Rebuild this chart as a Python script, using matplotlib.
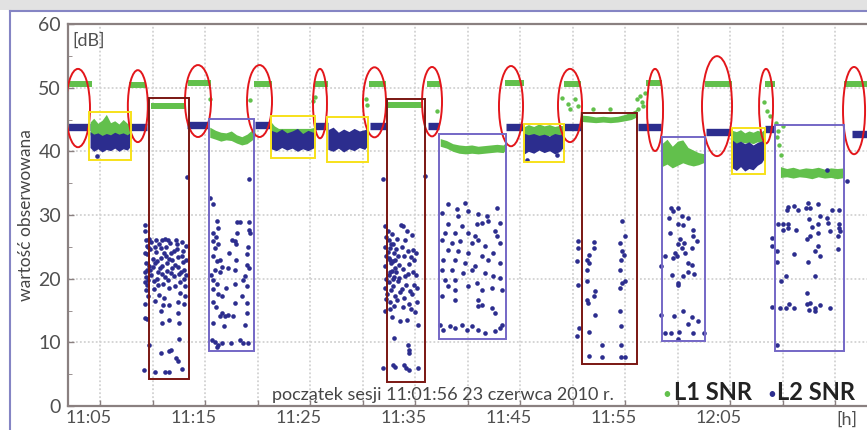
import matplotlib.pyplot as plt
import matplotlib.transforms as mtransforms
from matplotlib.patches import Ellipse, Rectangle
from matplotlib.lines import Line2D

# czas w minutach od 11:00, wartości w dB

# L1 SNR - odcinki stałe (początek, koniec, poziom)
l1_flat_start = [61.9, 67.8, 69.9, 73.4, 79.7, 85.4, 90.6, 92.4, 96.1, 103.6, 109.2, 117.0, 122.6, 128.3, 135.9]
l1_flat_end = [64.2, 69.4, 73.2, 75.6, 81.4, 86.7, 92.2, 95.7, 97.4, 105.4, 110.8, 118.5, 125.2, 129.3, 138.4]
l1_flat_level = [50.5, 50.4, 47.1, 50.7, 50.6, 50.6, 50.5, 47.2, 50.6, 50.8, 50.6, 50.7, 50.5, 50.5, 50.5]

# L2 SNR - odcinki stałe
l2_flat_start = [61.9, 67.9, 73.3, 79.8, 85.5, 90.7, 96.2, 103.7, 109.2, 116.2, 122.7, 128.3, 136.6]
l2_flat_end = [64.0, 69.5, 75.4, 81.3, 86.7, 92.2, 97.3, 105.3, 110.8, 118.4, 125.2, 129.2, 138.4]
l2_flat_level = [43.8, 43.9, 44.1, 44.1, 44.0, 44.0, 44.0, 43.9, 43.9, 43.8, 43.1, 43.5, 42.8]

# L1 - pasma zaszumione (czas, dolna krawędź, górna krawędź)
g1_t = [64.05, 64.4, 64.8, 65.2, 65.6, 66.0, 66.4, 66.8, 67.2, 67.6, 67.9]
g1_lo = [42.6, 42.4, 42.8, 42.3, 42.6, 42.5, 42.7, 42.4, 42.8, 42.5, 42.7]
g1_hi = [44.6, 45.2, 44.4, 44.9, 45.8, 44.5, 44.8, 44.3, 45.0, 44.4, 44.2]

g3_t = [75.45, 76.0, 76.5, 77.0, 77.5, 78.0, 78.5, 79.0, 79.5, 79.75]
g3_lo = [42.2, 41.9, 41.6, 41.8, 41.7, 41.3, 41.0, 41.2, 41.8, 42.3]
g3_hi = [43.8, 43.3, 43.0, 42.9, 43.2, 42.6, 42.3, 42.7, 43.4, 43.6]

g4_t = [81.3, 81.6, 82.0, 83.0, 84.0, 85.0, 85.5]
g4_lo = [42.8, 42.8, 42.8, 42.8, 42.8, 42.8, 42.8]
g4_hi = [44.6, 44.0, 43.6, 43.6, 43.6, 43.6, 43.8]

g7_t = [97.4, 98.0, 98.6, 99.2, 99.8, 100.4, 101.0, 101.6, 102.2, 102.8, 103.4, 103.6]
g7_lo = [40.8, 40.5, 40.0, 39.7, 39.6, 39.7, 39.6, 39.7, 39.8, 39.9, 39.8, 40.2]
g7_hi = [42.0, 41.7, 41.2, 41.0, 40.9, 41.0, 40.8, 40.9, 41.0, 41.1, 41.0, 41.3]

g8_t = [105.3, 105.8, 106.3, 106.8, 107.3, 107.8, 108.3, 108.8, 109.1]
g8_lo = [42.3, 42.5, 42.2, 42.4, 42.3, 42.5, 42.2, 42.4, 42.6]
g8_hi = [43.8, 44.2, 43.9, 44.3, 44.0, 44.2, 43.9, 44.1, 44.0]

g9_t = [110.8, 111.5, 112.2, 112.9, 113.6, 114.3, 115.0, 115.6, 116.1]
g9_lo = [44.7, 44.6, 44.5, 44.6, 44.5, 44.6, 44.8, 45.0, 45.4]
g9_hi = [45.7, 45.6, 45.4, 45.5, 45.4, 45.5, 45.8, 46.2, 46.6]

g10_t = [118.5, 119.0, 119.5, 120.0, 120.5, 121.0, 121.5, 122.0, 122.6]
g10_lo = [37.6, 38.0, 37.4, 37.8, 38.2, 37.9, 37.7, 37.9, 38.3]
g10_hi = [41.2, 41.9, 40.8, 41.6, 41.8, 40.6, 40.2, 39.8, 39.6]

g11_t = [125.2, 125.6, 126.0, 126.4, 126.8, 127.2, 127.6, 128.0, 128.3]
g11_lo = [41.4, 41.2, 41.5, 41.3, 41.4, 41.2, 41.5, 41.3, 41.6]
g11_hi = [43.3, 43.1, 43.4, 42.9, 43.2, 43.0, 43.3, 43.1, 43.5]

g12_t = [129.8, 130.4, 131.0, 131.6, 132.2, 132.8, 133.4, 134.0, 134.6, 135.2, 135.9]
g12_lo = [35.9, 36.0, 35.8, 36.0, 35.9, 35.7, 36.0, 35.8, 35.9, 35.7, 35.9]
g12_hi = [37.6, 37.3, 37.5, 37.2, 37.4, 37.3, 37.5, 37.2, 37.4, 37.3, 37.4]

# L2 - pasma zaszumione
b1_t = [64.05, 64.4, 64.8, 65.2, 65.6, 66.0, 66.4, 66.8, 67.2, 67.6, 67.9]
b1_lo = [40.6, 40.0, 40.4, 39.9, 40.3, 40.1, 40.5, 40.0, 40.4, 40.2, 40.8]
b1_hi = [43.1, 42.7, 42.9, 42.5, 42.8, 42.6, 43.0, 42.7, 42.9, 42.6, 43.0]

b4_t = [81.3, 81.8, 82.3, 82.8, 83.3, 83.8, 84.3, 84.8, 85.3, 85.5]
b4_lo = [40.4, 40.1, 40.6, 40.2, 40.5, 40.0, 40.4, 40.1, 40.5, 40.8]
b4_hi = [43.3, 43.0, 43.5, 42.9, 43.2, 43.6, 42.8, 43.3, 43.0, 43.2]

b5_t = [86.7, 87.2, 87.7, 88.2, 88.7, 89.2, 89.7, 90.2, 90.5]
b5_lo = [40.3, 40.0, 40.5, 39.9, 40.4, 40.1, 40.6, 40.3, 40.9]
b5_hi = [43.4, 43.8, 43.0, 43.5, 43.1, 43.6, 43.2, 43.4, 43.6]

b8_t = [105.3, 105.8, 106.3, 106.8, 107.3, 107.8, 108.3, 108.8, 109.1]
b8_lo = [39.5, 40.0, 39.7, 40.2, 39.8, 40.1, 39.6, 40.0, 40.6]
b8_hi = [42.9, 42.6, 42.8, 42.5, 42.7, 42.4, 42.8, 42.6, 42.9]

b11_t = [125.2, 125.6, 126.0, 126.4, 126.8, 127.2, 127.6, 128.0, 128.3]
b11_lo = [37.4, 37.0, 37.6, 36.9, 37.3, 37.1, 37.8, 38.2, 39.0]
b11_hi = [41.8, 41.3, 41.6, 41.2, 41.5, 41.0, 41.4, 41.6, 42.0]

# L1 - pojedyncze punkty w przejściach
l1_points = [(90.3, 48.2), (90.4, 47.2), (97.1, 46.4), (109.0, 48.3), (109.6, 47.4),
             (110.24, 48.2), (110.56, 47.1), (109.76, 46.6), (111.98, 46.6), (113.57, 46.6),
             (116.11, 48.2), (116.27, 46.6), (116.43, 48.7), (116.59, 47.7), (116.74, 47.1),
             (116.9, 49.2), (129.4, 44.5), (129.6, 43.2), (129.5, 42.3), (129.7, 41.0),
             (129.9, 39.5), (130.0, 44.0), (85.3, 47.9), (85.5, 48.6), (75.5, 48.2),
             (79.3, 48.0), (128.2, 47.8), (128.5, 46.4), (128.8, 45.5)]

# L2 - chmury punktów
cloud_a = [(69.4, 26.1), (69.5, 25.2), (69.5, 23.8), (69.4, 22.5), (69.5, 21.4), (69.4, 20.3),
           (69.5, 19.0), (69.4, 18.2), (69.6, 17.3), (69.7, 26.3), (69.8, 24.6), (69.9, 25.8),
           (70.0, 23.1), (70.0, 21.9), (69.9, 20.6), (70.1, 19.6), (70.1, 18.4), (70.3, 26.0),
           (70.3, 24.2), (70.4, 22.8), (70.5, 21.1), (70.4, 20.0), (70.6, 17.5), (70.6, 25.4),
           (70.8, 24.8), (70.8, 23.3), (70.9, 22.0), (70.9, 20.7), (71.0, 19.2), (71.1, 17.0),
           (71.2, 26.2), (71.3, 25.0), (71.3, 23.6), (71.4, 22.4), (71.4, 21.2), (71.5, 19.8),
           (71.6, 18.5), (71.7, 25.6), (71.8, 24.0), (71.9, 22.9), (71.9, 21.6), (72.0, 20.4),
           (72.1, 18.9), (72.2, 26.0), (72.3, 24.7), (72.4, 23.4), (72.4, 21.9), (72.5, 20.8),
           (72.6, 19.5), (72.6, 17.8), (72.8, 25.7), (72.9, 24.3), (72.9, 22.6), (73.0, 21.3),
           (73.0, 20.0), (73.1, 18.9), (73.2, 25.2), (73.2, 23.0), (73.1, 17.2), (70.2, 16.5),
           (71.0, 15.8), (72.4, 16.3), (73.0, 16.0), (69.6, 24.9), (69.7, 22.0), (70.2, 24.9),
           (70.7, 21.7), (71.1, 24.1), (71.6, 23.1), (72.1, 22.2), (72.7, 21.0), (73.2, 20.6),
           (70.5, 19.0), (71.8, 20.9), (72.3, 25.4), (70.9, 26.0), (69.8, 21.3), (72.8, 23.6),
           (71.2, 20.3), (70.2, 22.4), (72.0, 24.4), (71.5, 26.1), (69.6, 19.8),
           (69.3, 27.5), (69.3, 24.0), (69.3, 21.0), (69.3, 19.5), (69.3, 16.0), (69.3, 13.8),
           (73.26, 35.9), (69.29, 28.5), (70.8, 14.9), (71.6, 15.9), (72.4, 14.6), (71.6, 13.5),
           (70.9, 13.0), (72.5, 13.1), (69.5, 13.6), (72.5, 10.6), (69.7, 9.6), (70.8, 8.3),
           (71.6, 8.6), (71.8, 8.8), (72.2, 7.5), (72.4, 7.1), (69.2, 5.7), (70.2, 5.4),
           (71.2, 5.4), (71.6, 5.4), (72.8, 5.8)]

cloud_b = [(79.22, 35.7), (75.48, 32.7), (75.79, 31.7), (76.11, 29.0), (76.27, 28.0), (75.79, 27.2),
           (75.79, 25.9), (75.95, 24.8), (75.79, 23.5), (76.11, 22.7), (76.43, 23.0), (76.59, 21.9),
           (75.95, 21.4), (76.43, 21.1), (75.79, 19.8), (76.11, 19.1), (75.79, 18.3), (76.27, 17.6),
           (76.59, 17.3), (75.79, 16.4), (76.43, 14.1), (76.59, 14.6), (76.90, 14.2), (77.22, 14.3),
           (77.70, 14.2), (75.79, 13.0), (75.63, 10.4), (75.95, 10.1), (76.27, 9.6), (76.59, 9.9),
           (78.33, 10.4), (79.12, 9.9), (78.02, 28.9), (78.33, 28.9), (79.22, 28.9), (79.22, 27.7),
           (79.29, 27.2), (78.08, 27.2), (77.54, 26.1), (77.86, 25.9), (77.95, 25.4), (78.97, 23.8),
           (77.95, 23.0), (78.97, 22.2), (77.22, 21.7), (77.86, 21.4), (79.22, 21.7), (78.81, 20.4),
           (77.86, 19.1), (78.97, 18.8), (78.50, 17.2), (77.86, 16.2), (78.97, 16.2), (78.97, 14.6),
           (78.81, 12.8), (78.65, 9.9), (76.0, 26.5), (76.2, 25.5), (75.6, 20.5), (76.0, 15.5),
           (77.3, 24.0), (78.6, 19.8), (77.0, 18.6), (79.1, 25.0), (76.8, 12.6), (77.5, 9.9),
           (76.1, 9.3)]

cloud_c = [(91.95, 35.6), (95.92, 36.1), (92.14, 28.3), (92.24, 26.5), (92.14, 25.0), (92.24, 23.5),
           (92.14, 22.0), (92.24, 20.0), (92.14, 18.5), (92.24, 16.8), (92.14, 15.0), (92.43, 27.5),
           (92.52, 26.0), (92.62, 24.8), (92.52, 23.2), (92.71, 22.4), (92.62, 21.0), (92.52, 19.5),
           (92.71, 18.2), (92.62, 16.3), (92.81, 27.0), (92.90, 25.5), (93.0, 24.0), (92.90, 22.8),
           (93.10, 21.6), (93.0, 20.3), (92.90, 18.8), (93.10, 17.2), (93.0, 15.7), (92.81, 14.0),
           (93.29, 26.2), (93.38, 23.5), (93.19, 21.0), (93.38, 19.6), (93.29, 16.6), (93.48, 22.2),
           (93.67, 28.5), (93.86, 28.2), (93.76, 25.0), (93.95, 23.6), (93.86, 21.5), (94.05, 20.4),
           (93.76, 18.4), (93.95, 17.0), (93.86, 15.5), (94.14, 19.0), (94.24, 27.5), (94.33, 24.3),
           (94.43, 22.3), (94.33, 20.8), (94.52, 18.0), (94.43, 16.0), (94.62, 15.2), (94.71, 26.8),
           (94.81, 24.5), (94.90, 22.9), (94.81, 21.0), (94.90, 19.0), (94.71, 17.6), (95.10, 20.6),
           (95.19, 18.5), (95.0, 14.8), (95.29, 12.8), (94.24, 13.5), (93.57, 13.3), (92.4, 24.2),
           (92.6, 22.9), (92.8, 21.2), (92.5, 20.6), (92.7, 25.4), (93.1, 23.0), (92.9, 19.9),
           (93.2, 24.6), (92.35, 17.6), (92.6, 15.3), (93.5, 20.1), (93.6, 17.9), (94.6, 23.4),
           (95.1, 24.0), (95.2, 16.3), (94.0, 26.0), (93.0, 10.7), (94.33, 9.6), (94.43, 8.8),
           (94.43, 8.3), (91.95, 5.9), (92.90, 6.5), (93.13, 6.2), (93.95, 6.5), (94.10, 5.9),
           (94.43, 5.7), (95.24, 5.9)]

cloud_d = [(98.17, 31.66), (98.97, 30.87), (99.76, 31.92), (101.03, 30.08), (101.82, 29.82),
           (102.78, 31.13), (97.54, 30.35), (99.13, 29.82), (100.08, 30.61), (103.10, 28.77),
           (101.98, 29.03), (101.35, 28.77), (100.87, 28.51), (98.17, 28.51), (97.86, 27.20),
           (98.81, 27.20), (99.44, 28.25), (100.08, 27.20), (100.71, 26.67), (102.78, 26.67),
           (102.62, 27.46), (97.54, 26.15), (98.49, 25.62), (99.29, 25.88), (100.40, 25.62),
           (101.03, 26.15), (101.67, 25.10), (103.10, 25.62), (98.17, 24.57), (99.13, 24.31),
           (100.08, 24.05), (101.35, 23.52), (101.98, 23.00), (102.46, 24.05), (97.70, 23.00),
           (98.81, 23.00), (99.76, 22.47), (100.71, 21.95), (103.10, 22.47), (97.54, 21.42),
           (98.49, 21.42), (99.60, 20.90), (100.40, 21.42), (101.67, 20.90), (102.46, 20.37),
           (97.86, 19.85), (98.81, 19.85), (100.87, 19.32), (103.10, 20.11), (98.17, 18.80),
           (98.81, 18.27), (100.08, 18.80), (101.35, 18.27), (102.30, 18.53), (97.54, 17.22),
           (98.81, 16.70), (101.03, 16.70), (103.25, 18.27), (101.35, 15.91), (102.30, 15.39),
           (102.62, 14.60), (101.03, 15.65), (97.38, 12.76), (97.70, 11.97), (98.33, 12.50),
           (98.81, 12.24), (99.44, 12.76), (99.92, 11.97), (100.40, 12.50), (101.03, 11.97),
           (101.67, 11.45), (102.62, 11.71), (103.10, 12.24), (103.25, 12.76)]

cloud_e = [(114.71, 29.03), (115.03, 26.67), (110.52, 25.88), (110.52, 24.83), (112.01, 25.72),
           (112.01, 24.83), (114.55, 25.62), (114.71, 24.30), (114.87, 23.78), (111.54, 23.78),
           (111.38, 22.99), (110.43, 22.83), (111.54, 22.47), (114.65, 22.99), (114.55, 21.42),
           (111.38, 21.42), (114.71, 19.32), (115.03, 19.58), (114.55, 18.53), (111.38, 19.58),
           (110.52, 19.05), (112.17, 18.00), (112.01, 17.22), (111.38, 16.69), (111.47, 16.17),
           (112.17, 14.33), (114.55, 14.85), (114.65, 12.60), (110.58, 12.23), (110.43, 10.92),
           (111.54, 11.55), (112.81, 9.60), (114.65, 9.60), (111.54, 7.87), (112.81, 7.66),
           (114.65, 7.77), (114.97, 7.77)]

cloud_f = [(119.38, 31.13), (120.08, 31.13), (119.61, 30.61), (120.40, 29.82), (121.03, 29.56),
           (119.19, 29.56), (120.02, 28.51), (120.56, 28.40), (121.51, 27.72), (119.29, 27.19),
           (121.51, 26.67), (121.83, 25.99), (120.24, 26.25), (120.65, 25.62), (120.02, 25.46),
           (120.40, 24.83), (121.35, 24.83), (119.76, 24.04), (120.72, 24.04), (118.81, 23.62),
           (119.92, 23.52), (119.61, 23.26), (121.03, 22.47), (118.43, 21.94), (121.35, 22.21),
           (121.03, 21.05), (121.61, 20.74), (119.45, 20.63), (120.56, 20.37), (120.08, 19.32),
           (120.02, 19.06), (120.56, 14.86), (118.43, 14.23), (119.70, 14.07), (121.35, 13.91),
           (121.99, 13.28), (121.03, 12.86), (118.81, 11.45), (119.38, 11.45), (120.15, 11.55),
           (121.51, 11.45), (122.56, 11.45), (120.02, 10.55)]

cloud_g = [(130.40, 30.86), (130.55, 31.23), (131.13, 31.39), (131.51, 30.71), (132.21, 31.13),
           (132.62, 31.13), (132.46, 31.91), (133.35, 31.76), (134.68, 30.86), (135.38, 30.86),
           (132.52, 29.45), (133.57, 29.81), (133.41, 28.61), (134.20, 29.55), (134.36, 28.76),
           (135.38, 28.61), (135.38, 27.98), (135.32, 26.66), (135.48, 27.45), (134.52, 27.45),
           (129.54, 28.61), (130.08, 28.61), (130.49, 28.61), (130.08, 27.71), (130.55, 27.98),
           (131.25, 27.71), (132.78, 28.08), (133.35, 27.19), (132.62, 26.66), (132.30, 26.30),
           (128.97, 26.40), (128.97, 25.09), (129.44, 24.41), (133.41, 25.09), (133.09, 24.41),
           (135.32, 24.67), (131.13, 23.88), (133.57, 23.51), (132.46, 22.62), (129.44, 22.62),
           (130.30, 20.37), (129.86, 19.58), (133.09, 20.37), (132.30, 17.74), (128.97, 15.53),
           (129.76, 15.38), (130.30, 15.38), (130.62, 16.01), (131.13, 15.38), (132.30, 16.01),
           (132.62, 16.16), (132.52, 15.12), (133.09, 15.38), (133.09, 14.96), (133.57, 15.90),
           (134.52, 15.38), (129.44, 9.60)]

l2_extra = [(136.1, 35.3), (134.2, 37.0), (64.69, 39.3), (105.64, 38.7), (108.5, 39.4)]

xtick_labels = ['11:05', '', '11:15', '', '11:25', '', '11:35', '', '11:45', '', '11:55', '', '12:05', '', '']

green = '#62c04c'
blue = '#2c2d8e'

plt.rcParams['font.family'] = ['Lato', 'DejaVu Sans']

fig = plt.figure(figsize=(8.67, 4.30), dpi=100)
fig.patches.append(Rectangle((0, 1 - 10 / 430), 1, 10 / 430, transform=fig.transFigure,
                             facecolor='#e2e2e2', edgecolor='none'))
fig.lines.append(Line2D([10 / 867, 1], [1 - 10.5 / 430] * 2, transform=fig.transFigure,
                        color='#8585c4', lw=1.5))
fig.lines.append(Line2D([10 / 867] * 2, [0, 1 - 10.5 / 430], transform=fig.transFigure,
                        color='#8585c4', lw=1.5))

ax = fig.add_axes([68 / 867, 24 / 430, 802 / 867, 382 / 430])
ax.set_xlim(61.95, 138.33)
ax.set_ylim(0, 60)

# pasma stałe
for s, e, v in zip(l1_flat_start, l1_flat_end, l1_flat_level):
    ax.plot([s, e], [v, v], color=green, lw=4.3, solid_capstyle='butt', zorder=2)
for s, e, v in zip(l2_flat_start, l2_flat_end, l2_flat_level):
    ax.plot([s, e], [v, v], color=blue, lw=5.3, solid_capstyle='butt', zorder=2)

# pasma zaszumione
for t, lo, hi in [(g1_t, g1_lo, g1_hi), (g3_t, g3_lo, g3_hi), (g4_t, g4_lo, g4_hi),
                  (g7_t, g7_lo, g7_hi), (g8_t, g8_lo, g8_hi), (g9_t, g9_lo, g9_hi),
                  (g10_t, g10_lo, g10_hi), (g11_t, g11_lo, g11_hi), (g12_t, g12_lo, g12_hi)]:
    ax.fill_between(t, lo, hi, color=green, lw=0, zorder=2)
for t, lo, hi in [(b1_t, b1_lo, b1_hi), (b4_t, b4_lo, b4_hi), (b5_t, b5_lo, b5_hi),
                  (b8_t, b8_lo, b8_hi), (b11_t, b11_lo, b11_hi)]:
    ax.fill_between(t, lo, hi, color=blue, lw=0, zorder=2.5)

# punkty
ax.scatter([p[0] for p in l1_points], [p[1] for p in l1_points], s=10, color=green, lw=0, zorder=3)
for cloud in [cloud_a, cloud_b, cloud_c, cloud_d, cloud_e, cloud_f, cloud_g, l2_extra]:
    ax.scatter([p[0] for p in cloud], [p[1] for p in cloud], s=11, color=blue, lw=0, zorder=3)

# adnotacje
for cx, cy, w, h in [(62.9, 46.8, 2.29, 12.3), (68.6, 47.1, 1.9, 11.3), (74.33, 47.9, 2.48, 11.3),
                     (80.19, 47.9, 2.38, 11.3), (85.95, 47.5, 1.33, 10.9), (91.14, 47.7, 2.19, 11.0),
                     (96.62, 47.8, 1.9, 10.9), (104.14, 47.1, 2.29, 12.6), (109.76, 47.2, 2.29, 11.5),
                     (117.86, 46.5, 1.52, 12.9), (123.76, 47.1, 2.86, 15.7), (128.43, 47.1, 1.33, 11.7),
                     (136.81, 46.4, 2.1, 13.7)]:
    ax.add_patch(Ellipse((cx, cy), w, h, fill=False, edgecolor='#e3161b', lw=1.4, zorder=4))

boxes = [((63.95, 67.95, 38.6, 46.1), '#f7e11a'), ((81.29, 85.48, 38.9, 45.5), '#f7e11a'),
         ((86.62, 90.52, 38.3, 45.4), '#f7e11a'), ((105.38, 109.19, 38.3, 44.3), '#f7e11a'),
         ((125.19, 128.33, 36.5, 43.6), '#f7e11a'),
         ((69.67, 73.48, 4.25, 48.35), '#7a1612'), ((92.33, 95.95, 3.8, 48.2), '#7a1612'),
         ((110.9, 116.14, 6.6, 46.0), '#7a1612'),
         ((75.38, 79.67, 8.66, 45.04), '#7467c6'), ((97.29, 103.67, 10.55, 42.8), '#7467c6'),
         ((118.52, 122.62, 10.24, 42.2), '#7467c6'), ((129.29, 135.86, 8.66, 44.1), '#7467c6')]
for (x0, x1, y0, y1), c in boxes:
    ax.add_patch(Rectangle((x0, y0), x1 - x0, y1 - y0, fill=False, edgecolor=c, lw=1.4, zorder=4))

# osie
ax.set_xticks([65 + 5 * i for i in range(15)], xtick_labels)
ax.set_yticks(range(0, 61, 10))
ax.set_yticks(range(5, 60, 10), minor=True)
ax.tick_params(direction='in', length=4, width=1, color='#8a8080', labelcolor='#505050')
ax.tick_params(axis='x', labelsize=13, pad=3)
ax.tick_params(axis='y', labelsize=14, pad=5)
ax.tick_params(axis='y', which='minor', direction='in', length=3, color='#8a8080')
offset = mtransforms.ScaledTranslation(-11 / 100, 0, fig.dpi_scale_trans)
for lbl in ax.get_xticklabels():
    lbl.set_transform(lbl.get_transform() + offset)

for x in range(65, 140, 5):
    ax.axvline(x, color='#d2d2d2', lw=1.3, ls=(0, (1, 1.2)), zorder=0)
for y in range(10, 60, 10):
    ax.axhline(y, color='#d2d2d2', lw=1.3, ls=(0, (1, 1.2)), zorder=0)

for sp in ax.spines.values():
    sp.set_color('#8a8080')
    sp.set_linewidth(1.6)

ax.set_ylabel('wartość obserwowana', fontsize=12.5, color='#454545', labelpad=3)
ax.text(0.005, 0.978, '[dB]', transform=ax.transAxes, fontsize=13, color='#505050',
        va='top', ha='left')
ax.text(0.971, -0.037, '[h]', transform=ax.transAxes, fontsize=13, color='#505050',
        va='center', ha='center', clip_on=False)
ax.text(0.254, 0.016, 'początek sesji 11:01:56 23 czerwca 2010 r.', transform=ax.transAxes,
        fontsize=13, color='#454545', va='baseline', ha='left')
ax.text(0.747, 0.03, '•', transform=ax.transAxes, fontsize=11, color=green, va='center', ha='center')
ax.text(0.755, 0.016, 'L1 SNR', transform=ax.transAxes, fontsize=17, color='#222222',
        fontweight='bold', va='baseline', ha='left')
ax.text(0.878, 0.03, '•', transform=ax.transAxes, fontsize=11, color=blue, va='center', ha='center')
ax.text(0.884, 0.016, 'L2 SNR', transform=ax.transAxes, fontsize=17, color='#222222',
        fontweight='bold', va='baseline', ha='left')

fig.savefig('out.png', dpi=100)
